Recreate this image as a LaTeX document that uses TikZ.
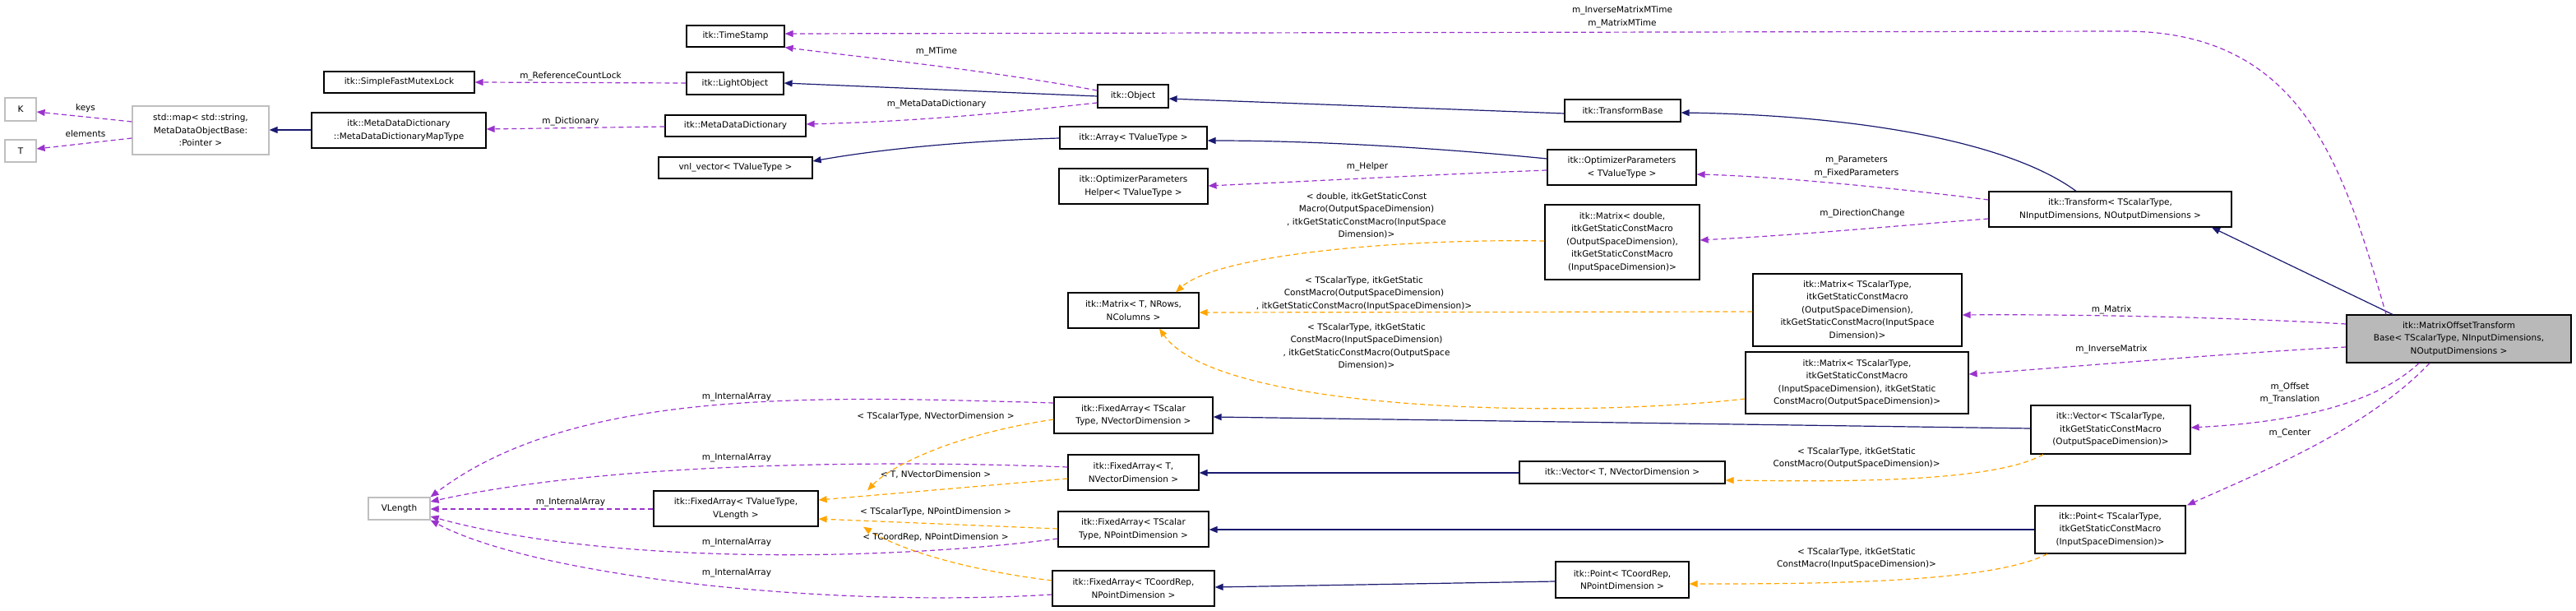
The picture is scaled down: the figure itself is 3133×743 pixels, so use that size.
\documentclass[tikz,border=0pt]{standalone}
\usepackage{fontspec}
\setmainfont{DejaVu Sans}
\usetikzlibrary{arrows.meta}
\definecolor{inh}{HTML}{191970}
\definecolor{usg}{HTML}{9A32CD}
\definecolor{tpl}{HTML}{FFA500}
\newcommand\bx[7]{\node[#1,minimum width={#4-#2},minimum height={#5-#3}] (#6) at ({(#2+#4)/2},{(#3+#5)/2}) {#7};}
\begin{document}
\begin{tikzpicture}[x=1pt,y=-1pt,font=\fontsize{10.5}{15.5}\selectfont,
 box/.style={draw=black,line width=1.2pt,fill=white,inner sep=1pt,align=center},
 gbox/.style={box,draw=gray!50},
 mbox/.style={box,fill=gray!55},
 lab/.style={align=center,inner sep=0pt,fill=none},
 ih/.style={draw=inh,line width=1.2pt,-{Triangle[length=10pt,width=8pt]},arrows={-{Triangle[length=10pt,width=8pt,fill=inh]}}},
 us/.style={draw=usg,line width=1.2pt,dash pattern=on 6pt off 4pt,arrows={-{Triangle[length=10pt,width=8pt,fill=usg]}}},
 tp/.style={draw=tpl,line width=1.2pt,dash pattern=on 6pt off 4pt,arrows={-{Triangle[length=10pt,width=8pt,fill=tpl]}}}]
\useasboundingbox (0,0) rectangle (3133,743);
% boxes
\bx{box}{835}{31}{954}{57}{ts}{itk::TimeStamp}
\bx{box}{394}{87}{577}{113}{sfml}{itk::SimpleFastMutexLock}
\bx{box}{835}{88}{953}{115}{lo}{itk::LightObject}
\bx{gbox}{6}{119}{44}{147}{K}{K}
\bx{gbox}{6}{170}{44}{197}{T}{T}
\bx{gbox}{161}{129}{327}{188}{smap}{std::map< std::string,\\ MetaDataObjectBase:\\ :Pointer >}
\bx{box}{379}{137}{591}{180}{mt}{itk::MetaDataDictionary\\ ::MetaDataDictionaryMapType}
\bx{box}{809}{140}{980}{166}{mdd}{itk::MetaDataDictionary}
\bx{box}{801}{191}{988}{217}{vnl}{vnl\_vector< TValueType >}
\bx{box}{1335}{103}{1421}{131}{obj}{itk::Object}
\bx{box}{1903}{121}{2044}{148}{tb}{itk::TransformBase}
\bx{box}{1289}{154}{1468}{181}{arr}{itk::Array< TValueType >}
\bx{box}{1288}{205}{1469}{248}{oph}{itk::OptimizerParameters\\ Helper< TValueType >}
\bx{box}{1882}{182}{2063}{225}{op}{itk::OptimizerParameters\\ < TValueType >}
\bx{box}{2419}{233}{2714}{276}{tr}{itk::Transform< TScalarType,\\ NInputDimensions, NOutputDimensions >}
\bx{box}{1879}{249}{2067}{340}{mdbl}{itk::Matrix< double,\\ itkGetStaticConstMacro\\ (OutputSpaceDimension),\\ itkGetStaticConstMacro\\ (InputSpaceDimension)>}
\bx{box}{1299}{356}{1458}{399}{mat}{itk::Matrix< T, NRows,\\ NColumns >}
\bx{box}{2132}{333}{2386}{421}{mso}{itk::Matrix< TScalarType,\\ itkGetStaticConstMacro\\ (OutputSpaceDimension),\\ itkGetStaticConstMacro(InputSpace\\ Dimension)>}
\bx{box}{2123}{428}{2394}{503}{msi}{itk::Matrix< TScalarType,\\ itkGetStaticConstMacro\\ (InputSpaceDimension), itkGetStatic\\ ConstMacro(OutputSpaceDimension)>}
\bx{mbox}{2854}{383}{3127}{441}{mot}{itk::MatrixOffsetTransform\\ Base< TScalarType, NInputDimensions,\\ NOutputDimensions >}
\bx{box}{2470}{493}{2664}{552}{vts}{itk::Vector< TScalarType,\\ itkGetStaticConstMacro\\ (OutputSpaceDimension)>}
\bx{box}{2475}{615}{2658}{673}{pts}{itk::Point< TScalarType,\\ itkGetStaticConstMacro\\ (InputSpaceDimension)>}
\bx{gbox}{448}{605}{523}{632}{vl}{VLength}
\bx{box}{795}{597}{995}{640}{fav}{itk::FixedArray< TValueType,\\ VLength >}
\bx{box}{1282}{483}{1475}{527}{fa1}{itk::FixedArray< TScalar\\ Type, NVectorDimension >}
\bx{box}{1299}{553}{1458}{596}{fa2}{itk::FixedArray< T,\\ NVectorDimension >}
\bx{box}{1287}{622}{1470}{665}{fa3}{itk::FixedArray< TScalar\\ Type, NPointDimension >}
\bx{box}{1280}{694}{1477}{737}{fa4}{itk::FixedArray< TCoordRep,\\ NPointDimension >}
\bx{box}{1848}{561}{2098}{588}{vt}{itk::Vector< T, NVectorDimension >}
\bx{box}{1892}{683}{2054}{727}{ptc}{itk::Point< TCoordRep,\\ NPointDimension >}
% inheritance
\draw[ih] (obj.west |- 0,117) -- (lo.east |- 0,101);
\draw[ih] (tb.west |- 0,138) -- (obj.east |- 0,120);
\draw[ih] (tr.north -| 2525,0) .. controls (2440,170) and (2250,140) .. (tb.east |- 0,137);
\draw[ih] (mot.north -| 2910,0) -- (tr.south -| 2690,0);
\draw[ih] (mt.west |- 0,158) -- (smap.east |- 0,158);
\draw[ih] (arr.west |- 0,168) .. controls (1150,172) and (1050,185) .. (vnl.east |- 0,196);
\draw[ih] (op.west |- 0,193) .. controls (1750,180) and (1600,171) .. (arr.east |- 0,171);
\draw[ih] (vts.west |- 0,521) -- (fa1.east |- 0,507);
\draw[ih] (vt.west |- 0,575) -- (fa2.east |- 0,575);
\draw[ih] (pts.west |- 0,644) -- (fa3.east |- 0,644);
\draw[ih] (ptc.west |- 0,707) -- (fa4.east |- 0,714);
% usage
\draw[us] (smap.west |- 0,148) -- (K.east |- 0,136);
\draw[us] (smap.west |- 0,168) -- (T.east |- 0,181);
\draw[us] (lo.west |- 0,101) -- (sfml.east |- 0,100);
\draw[us] (mdd.west |- 0,154) -- (mt.east |- 0,157);
\draw[us] (obj.west |- 0,110) .. controls (1200,85) and (1050,70) .. (ts.south east);
\draw[us] (obj.west |- 0,125) .. controls (1200,140) and (1100,148) .. (mdd.east |- 0,151);
\draw[us] (op.west |- 0,207) .. controls (1750,212) and (1600,220) .. (oph.east |- 0,226);
\draw[us] (tr.west |- 0,243) .. controls (2300,228) and (2150,214) .. (op.east |- 0,212);
\draw[us] (tr.west |- 0,266) .. controls (2300,275) and (2200,285) .. (mdbl.east |- 0,292);
\draw[us] (mot.north -| 2902,0) .. controls (2850,200) and (2800,40) .. (2587,38) -- (ts.east |- 0,41);
\draw[us] (mot.west |- 0,394) .. controls (2700,385) and (2500,382) .. (mso.east |- 0,383);
\draw[us] (mot.west |- 0,422) .. controls (2700,430) and (2500,448) .. (msi.east |- 0,455);
\draw[us] (mot.south -| 2942,0) .. controls (2880,500) and (2760,515) .. (vts.east |- 0,520);
\draw[us] (mot.south -| 2955,0) .. controls (2880,520) and (2760,570) .. (pts.north -| 2660,0);
\draw[us] (fa1.west |- 0,490) .. controls (1000,482) and (700,470) .. (vl.north east);
\draw[us] (fa2.west |- 0,568) .. controls (1100,560) and (750,560) .. (vl.east |- 0,610);
\draw[us] (fav.west |- 0,619) -- (vl.east |- 0,619);
\draw[us] (fa3.west |- 0,655) .. controls (1100,680) and (750,690) .. (vl.east |- 0,628);
\draw[us] (fa4.west |- 0,723) .. controls (1000,740) and (650,700) .. (vl.south east);
% template
\draw[tp] (mdbl.west |- 0,293) .. controls (1700,290) and (1480,310) .. (mat.north -| 1430,0);
\draw[tp] (mso.west |- 0,379) -- (mat.east |- 0,380);
\draw[tp] (msi.west |- 0,485) .. controls (1900,510) and (1480,500) .. (mat.south -| 1410,0);
\draw[tp] (fa1.west |- 0,510) .. controls (1150,530) and (1080,570) .. (fav.north -| 1055,0);
\draw[tp] (fa2.west |- 0,582) -- (fav.east |- 0,608);
\draw[tp] (fa3.west |- 0,643) -- (fav.east |- 0,631);
\draw[tp] (fa4.west |- 0,706) .. controls (1150,690) and (1080,660) .. (fav.south -| 1050,0);
\draw[tp] (vts.south -| 2485,0) .. controls (2420,590) and (2200,585) .. (vt.east |- 0,584);
\draw[tp] (pts.south -| 2490,0) .. controls (2420,710) and (2200,710) .. (ptc.east |- 0,710);
% labels
\node[lab] at (104,132) {keys};
\node[lab] at (104,163) {elements};
\node[lab] at (694,93) {m\_ReferenceCountLock};
\node[lab] at (694,148) {m\_Dictionary};
\node[lab] at (1139,63) {m\_MTime};
\node[lab] at (1139,127) {m\_MetaDataDictionary};
\node[lab] at (1973,21) {m\_InverseMatrixMTime\\ m\_MatrixMTime};
\node[lab] at (1663,203) {m\_Helper};
\node[lab] at (2258,203) {m\_Parameters\\ m\_FixedParameters};
\node[lab] at (2265,260) {m\_DirectionChange};
\node[lab] at (1662,262) {< double, itkGetStaticConst\\ Macro(OutputSpaceDimension)\\ , itkGetStaticConstMacro(InputSpace\\ Dimension)>};
\node[lab] at (1659,357) {< TScalarType, itkGetStatic\\ ConstMacro(OutputSpaceDimension)\\ , itkGetStaticConstMacro(InputSpaceDimension)>};
\node[lab] at (1662,421) {< TScalarType, itkGetStatic\\ ConstMacro(InputSpaceDimension)\\ , itkGetStaticConstMacro(OutputSpace\\ Dimension)>};
\node[lab] at (2568,377) {m\_Matrix};
\node[lab] at (2568,425) {m\_InverseMatrix};
\node[lab] at (2785,478) {m\_Offset\\ m\_Translation};
\node[lab] at (2785,527) {m\_Center};
\node[lab] at (2258,557) {< TScalarType, itkGetStatic\\ ConstMacro(OutputSpaceDimension)>};
\node[lab] at (2258,679) {< TScalarType, itkGetStatic\\ ConstMacro(InputSpaceDimension)>};
\node[lab] at (896,483) {m\_InternalArray};
\node[lab] at (896,557) {m\_InternalArray};
\node[lab] at (694,611) {m\_InternalArray};
\node[lab] at (896,660) {m\_InternalArray};
\node[lab] at (896,697) {m\_InternalArray};
\node[lab] at (1138,507) {< TScalarType, NVectorDimension >};
\node[lab] at (1138,577) {< T, NVectorDimension >};
\node[lab] at (1138,623) {< TScalarType, NPointDimension >};
\node[lab] at (1138,654) {< TCoordRep, NPointDimension >};
\end{tikzpicture}
\end{document}
